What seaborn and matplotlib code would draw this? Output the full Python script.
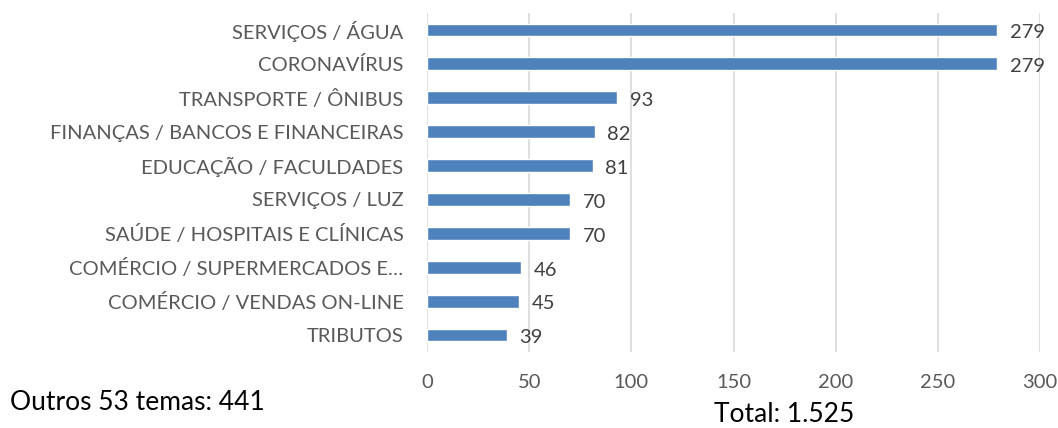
import numpy as np
import pandas as pd
import matplotlib
matplotlib.use("Agg")
import matplotlib.pyplot as plt
import seaborn as sns

# Temas e quantidades
temas = ["SERVIÇOS / ÁGUA", "CORONAVÍRUS", "TRANSPORTE / ÔNIBUS",
         "FINANÇAS / BANCOS E FINANCEIRAS", "EDUCAÇÃO / FACULDADES",
         "SERVIÇOS / LUZ", "SAÚDE / HOSPITAIS E CLÍNICAS",
         "COMÉRCIO / SUPERMERCADOS E…", "COMÉRCIO / VENDAS ON-LINE", "TRIBUTOS"]
quantidade = [279, 279, 93, 82, 81, 70, 70, 46, 45, 39]
x_ticks = [0, 50, 100, 150, 200, 250, 300]
texto_outros = "Outros 53 temas: 441"
texto_total = "Total: 1.525"

df = pd.DataFrame({"tema": temas, "qtd": quantidade})

sns.set_style("white")
plt.rcParams["font.family"] = ["Lato", "DejaVu Sans"]

fig = plt.figure(figsize=(10.58, 4.28), dpi=100)
ax = fig.add_axes([427 / 1058, 1 - 352 / 428, (1040 - 427) / 1058, (352 - 13) / 428])

sns.barplot(data=df, y="tema", x="qtd", orient="h", color="#4F81BD",
            saturation=1, width=0.38, ax=ax)

for i, v in enumerate(quantidade):
    ax.annotate(str(v), xy=(v, i), xytext=(9, -2), textcoords="offset points",
                ha="left", va="center", fontsize=14.5, color="#404040")

ax.set_xlim(0, 300)
ax.set_ylim(9.5, -0.5)
ax.set_xticks(x_ticks)
ax.grid(axis="x", color="#D9D9D9", linewidth=1.2)
ax.set_axisbelow(True)
for s in ax.spines.values():
    s.set_visible(False)
ax.set_xlabel("")
ax.set_ylabel("")
ax.tick_params(axis="y", length=0, pad=17, labelsize=14.5, labelcolor="#595959")
ax.tick_params(axis="x", length=0, pad=16, labelsize=14.5, labelcolor="#595959")

fig.text(10 / 1058, 1 - 403 / 428, texto_outros, fontsize=19, color="black",
         ha="left", va="center")
fig.text(784 / 1058, 1 - 414 / 428, texto_total, fontsize=19, color="black",
         ha="center", va="center")

fig.savefig("out.png", dpi=100)
